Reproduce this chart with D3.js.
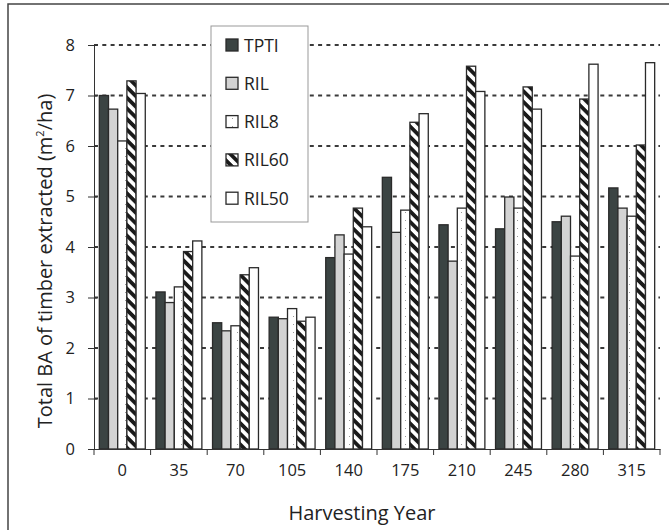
<!DOCTYPE html>
<html><head><meta charset="utf-8">
<script src="https://cdn.jsdelivr.net/npm/d3@7"></script>
<style>body{margin:0;background:#fff;} text{font-family:"Open Sans",sans-serif;fill:#222;}</style>
</head><body>
<svg id="c" width="669" height="530"></svg>
<script>
const years = ["0","35","70","105","140","175","210","245","280","315"];
const seriesNames = ["TPTI","RIL","RIL8","RIL60","RIL50"];
const TPTI  = [7.00,3.11,2.50,2.61,3.79,5.38,4.44,4.36,4.50,5.17];
const RIL   = [6.73,2.90,2.34,2.58,4.24,4.29,3.72,4.99,4.61,4.77];
const RIL8  = [6.10,3.21,2.44,2.78,3.86,4.73,4.77,4.77,3.82,4.61];
const RIL60 = [7.29,3.91,3.45,2.53,4.77,6.47,7.58,7.17,6.93,6.02];
const RIL50 = [7.04,4.12,3.59,2.61,4.40,6.64,7.08,6.73,7.62,7.65];
const yTicks = [0,1,2,3,4,5,6,7,8];
const seriesValues = [TPTI,RIL,RIL8,RIL60,RIL50];

const svg = d3.select("#c");
const defs = svg.append("defs");
const st = defs.append("pattern").attr("id","stripe").attr("patternUnits","userSpaceOnUse")
  .attr("width",7.5).attr("height",7.5).attr("patternTransform","rotate(45)");
st.append("rect").attr("width",7.5).attr("height",7.5).attr("fill","#fff");
st.append("rect").attr("width",7.5).attr("height",3.8).attr("fill","#1a1a1a");
const dt = defs.append("pattern").attr("id","dots").attr("patternUnits","userSpaceOnUse")
  .attr("width",8).attr("height",8);
dt.append("rect").attr("width",8).attr("height",8).attr("fill","#fff");
dt.append("rect").attr("x",5).attr("y",4).attr("width",1).attr("height",1).attr("fill","#999");

const fills = ["#3b4443","#d3d3d3","url(#dots)","url(#stripe)","#fff"];

svg.append("rect").attr("x",8).attr("y",4).attr("width",700).attr("height",600)
  .attr("fill","none").attr("stroke","#444").attr("stroke-width",1.5);

const pL=94, pR=660, pT=45, pB=449;
const x = d3.scaleBand().domain(years).range([pL,pR]).paddingInner(0).paddingOuter(0);
const y = d3.scaleLinear().domain([0,8]).range([pB,pT]);
const xi = d3.scaleBand().domain(seriesNames).range([0,x.bandwidth()]).paddingOuter(0.58).paddingInner(0);

svg.append("g").selectAll("line").data(yTicks.filter(d=>d>0)).join("line")
  .attr("x1",pL).attr("x2",pR).attr("y1",d=>y(d)).attr("y2",d=>y(d))
  .attr("stroke","#3a3a3a").attr("stroke-width",2).attr("stroke-dasharray","4,4.3");

const g = svg.append("g");
seriesNames.forEach((s,si)=>{
  g.append("g").selectAll("rect").data(seriesValues[si]).join("rect")
    .attr("x",(d,i)=>x(years[i])+xi(s))
    .attr("y",d=>y(d))
    .attr("width",xi.bandwidth())
    .attr("height",d=>y(0)-y(d))
    .attr("fill",fills[si]).attr("stroke","#2a2a2a").attr("stroke-width",1.3);
});

const ya = svg.append("g").attr("transform",`translate(${pL},0)`)
  .call(d3.axisLeft(y).tickValues(yTicks).tickSize(6).tickPadding(13).tickSizeOuter(0));
ya.select(".domain").attr("stroke","#333");
ya.selectAll(".tick line").attr("x1",3).attr("stroke","#333");
ya.selectAll("text").style("font-size","16.5px").attr("fill","#222");

const xa = svg.append("g").attr("transform",`translate(0,${pB})`)
  .call(d3.axisBottom(x).tickSize(0).tickPadding(15).tickSizeOuter(0));
xa.select(".domain").attr("stroke","#333");
xa.selectAll("text").style("font-size","16.5px").attr("fill","#222");
const bounds = years.map(d=>x(d)).concat([pR]);
xa.selectAll(".bt").data(bounds).join("line").attr("class","bt")
  .attr("x1",d=>d).attr("x2",d=>d).attr("y1",0).attr("y2",6).attr("stroke","#333");

svg.append("text").attr("x",362).attr("y",520).attr("text-anchor","middle")
  .style("font-size","20px").text("Harvesting Year");
const yt = svg.append("text").attr("transform","translate(52,261) rotate(-90)")
  .attr("text-anchor","middle").style("font-size","20px");
yt.append("tspan").text("Total BA of timber extracted (m");
yt.append("tspan").attr("dy",-8).style("font-size","11px").text("2");
yt.append("tspan").attr("dy",8).text("/ha)");

const lg = svg.append("g").attr("transform","translate(211,26)");
lg.append("rect").attr("width",97).attr("height",196).attr("fill","#fff").attr("stroke","#999").attr("stroke-width",1);
seriesNames.forEach((s,i)=>{
  const cy = 19 + i*38.3;
  lg.append("rect").attr("x",15).attr("y",cy-6).attr("width",12).attr("height",12)
    .attr("fill",fills[i]).attr("stroke","#2a2a2a").attr("stroke-width",1.3);
  lg.append("text").attr("x",33).attr("y",cy+6.5).style("font-size","17.5px").text(s);
});
</script>
</body></html>
